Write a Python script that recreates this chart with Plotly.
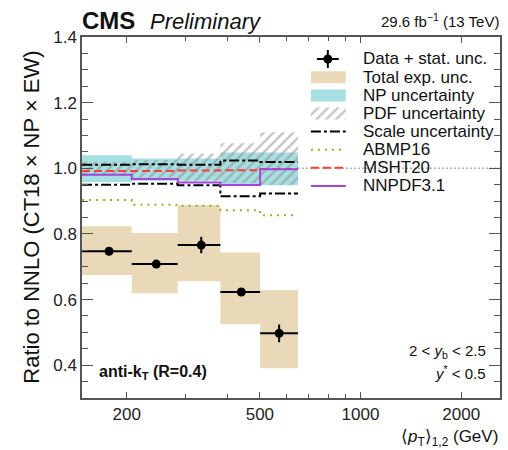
import plotly.graph_objects as go
import math

# ---------------- data ----------------
bin_edges = [147, 207, 284, 381, 501, 650]
x_centers = [177, 245, 334, 440, 571]
ratio = [0.747, 0.708, 0.766, 0.623, 0.497]
stat_unc = [0.007, 0.009, 0.025, 0.011, 0.027]
tot_lo = [0.675, 0.619, 0.656, 0.525, 0.391]
tot_hi = [0.823, 0.803, 0.887, 0.743, 0.629]
np_lo = [0.958, 0.962, 0.962, 0.950, 0.948]
np_hi = [1.040, 1.030, 1.030, 1.048, 1.048]
pdf_lo = [0.978, 0.972, 0.960, 0.955, 0.950]
pdf_hi = [1.020, 1.025, 1.045, 1.076, 1.110]
scale_hi = [1.011, 1.012, 1.011, 1.024, 1.019]
scale_lo = [0.950, 0.953, 0.948, 0.915, 0.923]
msht20 = [0.992, 0.992, 0.993, 0.994, 0.998]
nnpdf31 = [0.980, 0.967, 0.957, 0.949, 0.997]
abmp16 = [0.903, 0.889, 0.886, 0.872, 0.857]

x_ticks = [200, 500, 1000, 2000]
x_minor = [300, 400, 600, 700, 800, 900]
y_ticks = [0.4, 0.6, 0.8, 1.0, 1.2, 1.4]

legend_labels = ["Data + stat. unc.", "Total exp. unc.", "NP uncertainty",
                 "PDF uncertainty", "Scale uncertainty", "ABMP16", "MSHT20", "NNPDF3.1"]

# ---------------- layout geometry ----------------
W, H = 508, 450
L, R, T, B = 82, 6, 37, 52
PX0, PX1, PY0, PY1 = L, W - R, T, H - B
FONT = "Liberation Sans, Arial, Helvetica, sans-serif"

C_TOT = "#ead9b8"
C_NP = "#a6dfe2"
C_PDF = "#8c8c8c"
C_ABMP = "#8ab52a"
C_MSHT = "#ff3d3d"
C_NNPDF = "#a445d8"
SCALE_DASH = "10px,3px,3px,3px"
HATCH = dict(shape="/", fgcolor=C_PDF, bgcolor="rgba(0,0,0,0)", size=7, solidity=0.35)


def px2paper(px, py):
    return (px - PX0) / (PX1 - PX0), (PY1 - py) / (PY1 - PY0)


def boxes(lo, hi):
    xs, ys = [], []
    for i in range(len(lo)):
        a, b = bin_edges[i], bin_edges[i + 1]
        xs += [a, b, b, a, a, None]
        ys += [lo[i], lo[i], hi[i], hi[i], lo[i], None]
    return xs, ys


def steps(vals):
    return bin_edges, list(vals) + [vals[-1]]


fig = go.Figure()

# total experimental uncertainty
bx, by = boxes(tot_lo, tot_hi)
fig.add_trace(go.Scatter(x=bx, y=by, mode="lines", fill="toself", fillcolor=C_TOT,
                         line=dict(width=0), hoverinfo="skip", showlegend=False))
# NP uncertainty
bx, by = boxes(np_lo, np_hi)
fig.add_trace(go.Scatter(x=bx, y=by, mode="lines", fill="toself", fillcolor=C_NP,
                         line=dict(width=0), hoverinfo="skip", showlegend=False))
# PDF uncertainty (hatched)
bx, by = boxes(pdf_lo, pdf_hi)
fig.add_trace(go.Scatter(x=bx, y=by, mode="lines", fill="toself",
                         fillcolor="rgba(0,0,0,0)", fillpattern=HATCH,
                         line=dict(width=0), hoverinfo="skip", showlegend=False))

# step lines
for vals, color, dash in [(scale_hi, "black", SCALE_DASH), (scale_lo, "black", SCALE_DASH),
                          (abmp16, C_ABMP, "2px,5px"), (msht20, C_MSHT, "8px,4px"),
                          (nnpdf31, C_NNPDF, "solid")]:
    sx, sy = steps(vals)
    fig.add_trace(go.Scatter(x=sx, y=sy, mode="lines", line_shape="hv",
                             line=dict(color=color, width=2, dash=dash),
                             hoverinfo="skip", showlegend=False))

# data points
err_plus = [bin_edges[i + 1] - x_centers[i] for i in range(len(x_centers))]
err_minus = [x_centers[i] - bin_edges[i] for i in range(len(x_centers))]
fig.add_trace(go.Scatter(
    x=x_centers, y=ratio, mode="markers",
    marker=dict(color="black", size=9),
    error_y=dict(type="data", array=stat_unc, color="black", thickness=2, width=0),
    error_x=dict(type="data", array=err_plus, arrayminus=err_minus, color="black",
                 thickness=2, width=0),
    showlegend=False))

# ---------------- hand-made legend on an overlay (pixel) axis ----------------
row_y = [59, 77.3, 95.4, 113.5, 131.6, 149.7, 167.8, 185.9]
sx0, sx1 = 312, 347
fig.add_trace(go.Scatter(x=[329], y=[row_y[0]], mode="markers", xaxis="x2", yaxis="y2",
                         marker=dict(color="black", size=9),
                         error_y=dict(type="constant", value=9, color="black", thickness=2, width=0),
                         error_x=dict(type="constant", value=11, color="black", thickness=2, width=0),
                         hoverinfo="skip", showlegend=False))
for i, col in [(1, C_TOT), (2, C_NP)]:
    y0, y1 = row_y[i] - 6, row_y[i] + 6
    fig.add_trace(go.Scatter(x=[sx0, sx1, sx1, sx0, sx0], y=[y0, y0, y1, y1, y0],
                             mode="lines", fill="toself", fillcolor=col, line=dict(width=0),
                             xaxis="x2", yaxis="y2", hoverinfo="skip", showlegend=False))
y0, y1 = row_y[3] - 6, row_y[3] + 6
fig.add_trace(go.Scatter(x=[sx0, sx1, sx1, sx0, sx0], y=[y0, y0, y1, y1, y0],
                         mode="lines", fill="toself", fillcolor="rgba(0,0,0,0)",
                         fillpattern=HATCH, line=dict(width=0), xaxis="x2", yaxis="y2",
                         hoverinfo="skip", showlegend=False))
for i, col, dash in [(4, "black", SCALE_DASH), (5, C_ABMP, "2px,5px"),
                     (6, C_MSHT, "8px,4px"), (7, C_NNPDF, "solid")]:
    fig.add_trace(go.Scatter(x=[sx0, sx1], y=[row_y[i], row_y[i]], mode="lines",
                             line=dict(color=col, width=2, dash=dash),
                             xaxis="x2", yaxis="y2", hoverinfo="skip", showlegend=False))

annotations = []


def text_at(px, py, txt, size, anchor="left", angle=0, color="#111"):
    ax, ay = px2paper(px, py)
    annotations.append(dict(x=ax, y=ay, xref="paper", yref="paper", text=txt,
                            showarrow=False, xanchor=anchor, yanchor="middle",
                            textangle=angle, font=dict(size=size, color=color, family=FONT)))


for i, lab in enumerate(legend_labels):
    text_at(362, row_y[i], lab, 17)

text_at(80, 21, "<b>CMS</b>", 24)
text_at(148, 22, "<i>Preliminary</i>", 22)
text_at(503, 21, "29.6 fb<sup>−1</sup> (13 TeV)", 15, anchor="right")
text_at(97, 372, "<b>anti-k<sub>T</sub> (R=0.4)</b>", 16)
text_at(490, 351, "2 < <i>y</i><sub>b</sub> < 2.5", 15, anchor="right")
text_at(490, 372, "<i>y</i><sup>*</sup> < 0.5", 15, anchor="right")
text_at(502, 438, "⟨<i>p</i><sub>T</sub>⟩<sub>1,2</sub> (GeV)", 17, anchor="right")
text_at(31, 217.5, "Ratio to NNLO (CT18 × NP × EW)", 22, anchor="center", angle=-90)

x_range = [math.log10(200) - 45 / 336, math.log10(200) - 45 / 336 + 420 / 336]

fig.update_layout(
    width=W, height=H,
    margin=dict(l=L, r=R, t=T, b=B, pad=0),
    paper_bgcolor="white", plot_bgcolor="white",
    font=dict(family=FONT, size=17, color="#222"),
    annotations=annotations,
    shapes=[dict(type="line", xref="paper", x0=0, x1=1, yref="y", y0=1.0, y1=1.0,
                 line=dict(color="#b5b5b5", width=1.5, dash="2px,2px"), layer="below")],
    xaxis=dict(type="log", range=x_range, tickvals=x_ticks,
               ticktext=[str(v) for v in x_ticks], ticks="inside", ticklen=6,
               tickcolor="#555", tickwidth=1.3, showline=True, linecolor="#555",
               linewidth=1.5, mirror="ticks", showgrid=False, zeroline=False,
               tickfont=dict(size=17, color="#222"),
               minor=dict(tickvals=x_minor, ticks="inside", ticklen=4,
                          tickcolor="#555", showgrid=False)),
    yaxis=dict(range=[0.3, 1.4], tickvals=y_ticks, tickformat=".1f", ticks="inside",
               ticklen=11, tickcolor="#555", tickwidth=1.3, showline=True, linecolor="#555",
               linewidth=1.5, mirror="ticks", showgrid=False, zeroline=False,
               tickfont=dict(size=17, color="#222"),
               minor=dict(dtick=0.05, tick0=0.3, ticks="inside", ticklen=6,
                          tickcolor="#555", showgrid=False)),
    xaxis2=dict(overlaying="x", range=[PX0, PX1], visible=False, fixedrange=True),
    yaxis2=dict(overlaying="y", range=[PY1, PY0], visible=False, fixedrange=True),
    showlegend=False,
)

fig.write_html("out.html")
